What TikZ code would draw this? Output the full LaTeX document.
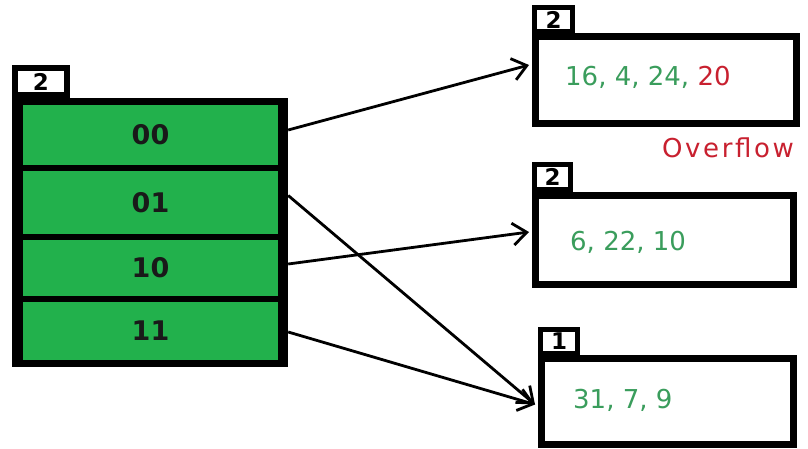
\documentclass[tikz,border=0pt]{standalone}
\usepackage{fontspec}
\setmainfont{DejaVu Sans}
\newfontfamily\ovfont{DejaVu Sans}[LetterSpace=10]
\usetikzlibrary{arrows.meta,calc}
\definecolor{cellgreen}{HTML}{22B14C}
\definecolor{numgreen}{HTML}{3A9D5C}
\definecolor{ovred}{HTML}{C8202F}
\begin{document}
\begin{tikzpicture}[x=1pt,y=-1pt,
  dirframe/.style={fill=black, inner sep=0pt, minimum width=276pt, minimum height=269pt},
  cell/.style={fill=cellgreen, inner sep=0pt, minimum width=255pt, font=\bfseries\fontsize{27}{27}\selectfont, text=black!90},
  tab/.style={draw=black, fill=white, inner sep=0pt, font=\bfseries\fontsize{23}{23}\selectfont},
  bucket/.style={draw=black, line width=7pt, fill=white, inner sep=0pt},
  keys/.style={font=\fontsize{26}{26}\selectfont, text=numgreen, anchor=west, inner sep=0pt},
  link/.style={line width=2.8pt, -{Straight Barb[length=14pt,width=22pt,line width=2.8pt]}}
]
\useasboundingbox[fill=white] (0,0) rectangle (808,449);

% directory
\node[dirframe] (dir) at (150,232.5) {};
\node[tab, line width=6pt, minimum width=52pt, minimum height=27pt] (dtab) at (41,81.5) {2};
\node[cell, minimum height=60pt] (c00) at (150.5,135) {00};
\node[cell, minimum height=63pt] (c01) at (150.5,202.5) {01};
\node[cell, minimum height=56pt] (c10) at (150.5,268) {10};
\node[cell, minimum height=58pt] (c11) at (150.5,331) {11};

% buckets
\node[bucket, minimum width=261pt, minimum height=87pt] (b1) at (666,80) {};
\node[tab, line width=5pt, minimum width=38pt, minimum height=24pt] (t1) at (553.5,19.5) {2};
\node[keys] (k1) at (565,77) {16, 4, 24, \textcolor{ovred}{20}};
\node[font=\ovfont\fontsize{26}{26}\selectfont, text=ovred, anchor=west, inner sep=0pt] (ov) at (662,148) {Overflow};

\node[bucket, minimum width=258pt, minimum height=89pt] (b2) at (664.5,240) {};
\node[tab, line width=5pt, minimum width=36pt, minimum height=25pt] (t2) at (552.5,177) {2};
\node[keys] (k2) at (570,242) {6, 22, 10};

\node[bucket, minimum width=252pt, minimum height=86pt] (b3) at (667.5,401.5) {};
\node[tab, line width=5pt, minimum width=37pt, minimum height=24pt] (t3) at (559,341) {1};
\node[keys] (k3) at (573,400) {31, 7, 9};

% pointers
\coordinate (s00) at ($(c00.east -| dir.east)+(0,-5)$);
\coordinate (s01) at ($(c01.east -| dir.east)+(0,-7)$);
\coordinate (s10) at ($(c10.east -| dir.east)+(0,-4)$);
\coordinate (s11) at ($(c11.east -| dir.east)+(0,1)$);
\coordinate (e1) at ($(b1.west)+(-3,-15)$);
\coordinate (e2) at ($(b2.west)+(-3,-8)$);
\coordinate (e3) at ($(b3.west)+(-3,3)$);
\draw[link] (s00) -- (e1);
\draw[link] (s01) -- (e3);
\draw[link] (s10) -- (e2);
\draw[link] (s11) -- (e3);
\end{tikzpicture}
\end{document}
